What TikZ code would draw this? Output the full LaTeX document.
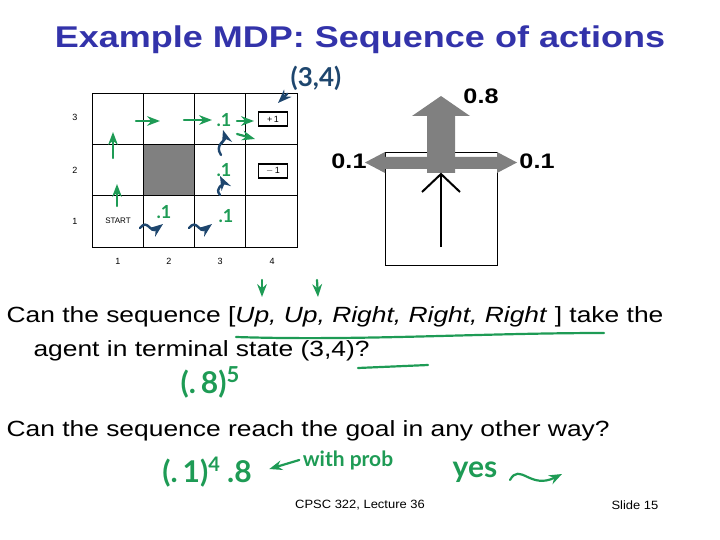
\documentclass[tikz,border=0pt]{standalone}
\usepackage{fontspec}
\setmainfont{Liberation Sans}
\newfontfamily\widefont[FakeStretch=1.2]{Liberation Sans}
\newfontfamily\footfont[FakeStretch=1.08]{Liberation Sans}
\newfontfamily\inkfont{Lato}
\usetikzlibrary{arrows.meta,positioning}
\definecolor{titleblue}{RGB}{51,51,170}
\definecolor{inkgreen}{RGB}{30,155,85}
\definecolor{inkblue}{RGB}{30,70,110}
\definecolor{arrowgray}{RGB}{128,128,128}

\begin{document}
\begin{tikzpicture}[x=1pt,y=-1pt,>=Stealth,
  cell/.style={draw,line width=0.8pt,minimum width=51.25pt,minimum height=51.33pt,inner sep=0pt},
  lbl/.style={font=\fontsize{9}{10}\selectfont},
  reward/.style={draw,line width=1.4pt,minimum width=29pt,minimum height=14pt,inner sep=0pt,font=\fontsize{9}{10}\selectfont},
  prob/.style={font=\widefont\bfseries\fontsize{21}{24}\selectfont},
  body/.style={anchor=west,font=\widefont\fontsize{22}{24}\selectfont},
  ink/.style={inkgreen,line width=2.2pt,line cap=round},
  inktext/.style={inkgreen,font=\inkfont\bfseries\fontsize{30}{32}\selectfont},
  dot/.style={inkgreen,font=\inkfont\bfseries\fontsize{18}{20}\selectfont},
  bluepen/.style={inkblue,line width=2.4pt,line cap=round}]
\useasboundingbox (0,0) rectangle (720,540);

% title
\node[titleblue,font=\widefont\bfseries\fontsize{30}{32}\selectfont] (title) at (360,40) {Example MDP: Sequence of actions};

% grid world
\foreach \r in {1,2,3}
  \foreach \c in {1,...,4}
    \node[cell] (c\r\c) at ({92+51.25*(\c-0.5)},{247-51.33*(\r-0.5)}) {};
\node[cell,fill=arrowgray] at (c22) {};
\foreach \r/\y in {3/117,2/170,1/221}
  \node[lbl] (row\r) at (75,\y) {\r};
\foreach \c/\x in {1/118,2/169,3/220,4/272}
  \node[lbl] (col\c) at (\x,261) {\c};
\node[reward] (plus) at (273,119) {+\,1};
\node[reward] (minus) at (273,171) {$-$\,1};
\node[font=\fontsize{8}{9}\selectfont] (start) at (118,221) {START};

% action model
\node[draw,line width=1pt,minimum width=112pt,minimum height=112pt] (square) at (441,209) {};
\fill[arrowgray] (385,157) -- (385,152) -- (365,162.5) -- (385,173) -- (385,169) -- (497,169) -- (497,173) -- (517,162.5) -- (497,152) -- (497,157) -- cycle;
\fill[arrowgray] (427,173) -- (427,116) -- (412,116) -- (441,96) -- (470,116) -- (455,116) -- (455,173) -- cycle;
\coordinate (tail) at (441,247);
\coordinate (tip) at (441,174);
\draw[line width=2pt] (tail) -- (tip);
\draw[line width=2pt] (422,192) -- (tip) -- (460,192);
\node[prob] (up) at (481,96) {0.8};
\node[prob] (left) at (349,161) {0.1};
\node[prob] (right) at (537,161) {0.1};

% question text
\node[body] (q1) at (3,317) {Can the sequence [\textit{Up, Up, Right, Right, Right} ] take the};
\node[body] (q2) at (30,351) {agent in terminal state (3,4)?};
\node[body] (q3) at (3,431) {Can the sequence reach the goal in any other way?};

% footer
\node[font=\footfont\fontsize{12}{14}\selectfont] (course) at (360,505) {CPSC 322, Lecture 36};
\node[font=\footfont\fontsize{12}{14}\selectfont] (slide) at (635,505) {Slide 15};

% pen notes
\node[inkblue,font=\inkfont\bfseries\fontsize{26}{28}\selectfont] (goal) at (316,78) {(3,4)};
\coordinate (goaltip) at (278,103);
\draw[bluepen,->] (goal.south west) -- (goaltip);
\draw[ink,->] (136,121) -- (160,121);
\draw[ink,->] (184,120) -- (212,120);
\draw[ink,->] (237,121) -- (254,121);
\draw[ink,->] (237,134) -- (255,139);
\draw[ink,->] (113,158) -- (113,132);
\draw[ink,->] (117,206) -- (117,184);
\node[dot] (p1) at (224,120) {.1};
\node[dot] (p2) at (224,170) {.1};
\node[dot] (p3) at (226,216) {.1};
\node[dot] (p4) at (164,212) {.1};
\draw[bluepen,->] (221,155) .. controls (214,145) and (226,140) .. (223,130);
\draw[bluepen,->] (220,195) .. controls (214,188) and (224,184) .. (220,176);
\draw[bluepen,->] (140,228) .. controls (148,218) and (150,234) .. (163,224);
\draw[bluepen,->] (189,228) .. controls (197,218) and (199,234) .. (212,224);
\draw[ink,->] (262,280) -- (262,297);
\draw[ink,->] (317,280) -- (318,297);
\draw[ink] (236,337) .. controls (360,341) and (480,333) .. (604,333);
\draw[ink] (358,368) -- (428,365);
\node[inktext] (eight) at (210,382) {(.\,8)\raisebox{11pt}{\fontsize{22}{24}\selectfont 5}};
\node[inktext] (tenth) at (207,472) {(.\,1)\raisebox{11pt}{\fontsize{20}{22}\selectfont 4}\ .8};
\node[inktext,font=\inkfont\bfseries\fontsize{21}{23}\selectfont] (withprob) at (348,460) {with prob};
\draw[ink,->] (withprob.west) -- ++(-30,9);
\node[inktext] (yes) at (475,472) {yes};
\coordinate (wayend) at (562,474);
\draw[ink,->] (510,480) .. controls (520,462) and (530,490) .. (wayend);
\end{tikzpicture}
\end{document}
